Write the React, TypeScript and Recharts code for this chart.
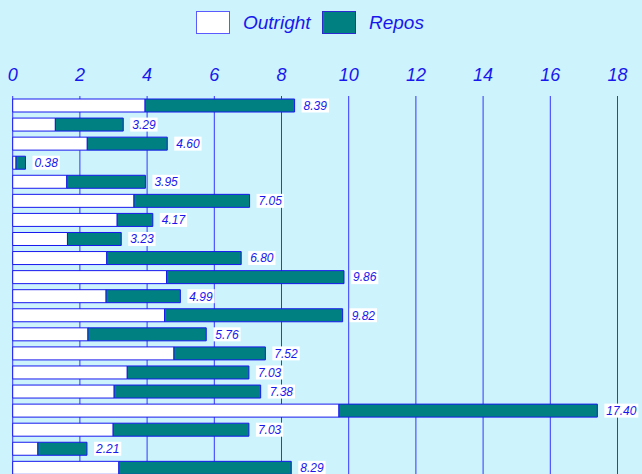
import { BarChart, Bar, XAxis, YAxis, CartesianGrid, LabelList } from 'recharts';

const categories = ['1', '2', '3', '4', '5', '6', '7', '8', '9', '10', '11', '12', '13', '14', '15', '16', '17', '18', '19', '20'];
const outright = [3.94, 1.27, 2.22, 0.1, 1.61, 3.61, 3.11, 1.63, 2.8, 4.58, 2.78, 4.52, 2.24, 4.8, 3.41, 3.02, 9.71, 2.99, 0.75, 3.16];
const repos = [4.45, 2.02, 2.38, 0.28, 2.34, 3.44, 1.06, 1.6, 4.0, 5.28, 2.21, 5.3, 3.52, 2.72, 3.62, 4.36, 7.69, 4.04, 1.46, 5.13];
const totals = [8.39, 3.29, 4.6, 0.38, 3.95, 7.05, 4.17, 3.23, 6.8, 9.86, 4.99, 9.82, 5.76, 7.52, 7.03, 7.38, 17.4, 7.03, 2.21, 8.29];
const xTicks = [0, 2, 4, 6, 8, 10, 12, 14, 16, 18];

const BG = '#cdf3fd';
const BLUE = '#1818ee';
const TEAL = '#008080';
const FONT = '"Liberation Sans", Arial, sans-serif';

const data = categories.map((name, i) => ({
  name,
  outright: outright[i],
  repos: repos[i],
  total: totals[i].toFixed(2),
}));

// white box behind the total, sized to the string
const TotalLabel = (props: any) => {
  const { x, y, width, value } = props;
  const s = String(value);
  const textW = s.replace('.', '').length * 6.67 + 3.33;
  const lx = x + width + 7;
  return (
    <g>
      <rect x={lx} y={y - 0.5} width={textW + 4} height={14} fill="#ffffff" />
      <text x={lx + 2} y={y + 10.8} fill={BLUE} fontSize={12} fontStyle="italic" fontFamily={FONT}>
        {s}
      </text>
    </g>
  );
};

function LegendBox() {
  const item = (label: string, fill: string, border: string, left: number) => (
    <div style={{ position: 'absolute', left, top: 11, display: 'flex', alignItems: 'center' }}>
      <div style={{ width: 32, height: 21, background: fill, border: `1px solid ${border}` }} />
      <span style={{ marginLeft: 13, fontSize: 19, fontStyle: 'italic', color: BLUE, fontFamily: FONT, lineHeight: '23px' }}>
        {label}
      </span>
    </div>
  );
  return (
    <>
      {item('Outright', '#ffffff', '#5a5aff', 196)}
      {item('Repos', TEAL, '#2a2ad0', 322)}
    </>
  );
}

export default function App() {
  return (
    <div style={{ position: 'absolute', left: 0, top: 0, width: 642, height: 474, overflow: 'hidden', background: BG }}>
      <LegendBox />
      <BarChart
        width={642}
        height={478}
        data={data}
        layout="vertical"
        margin={{ top: 0, right: 24.5, bottom: 0.6, left: 12.7 }}
        barSize={13}
      >
        <CartesianGrid horizontal={false} vertical stroke="#3434ff" strokeWidth={1} />
        <XAxis
          type="number"
          orientation="top"
          domain={[0, 18]}
          ticks={xTicks}
          height={96}
          axisLine={false}
          tickLine={false}
          tickSize={6}
          tickMargin={9}
          tick={{ fill: BLUE, fontSize: 18, fontStyle: 'italic', fontFamily: FONT }}
        />
        <YAxis type="category" dataKey="name" hide />
        <Bar dataKey="outright" stackId="a" fill="#ffffff" stroke={BLUE} strokeWidth={1} isAnimationActive={false} />
        <Bar dataKey="repos" stackId="a" fill={TEAL} stroke={BLUE} strokeWidth={1} isAnimationActive={false}>
          <LabelList dataKey="total" content={TotalLabel} />
        </Bar>
      </BarChart>
    </div>
  );
}
